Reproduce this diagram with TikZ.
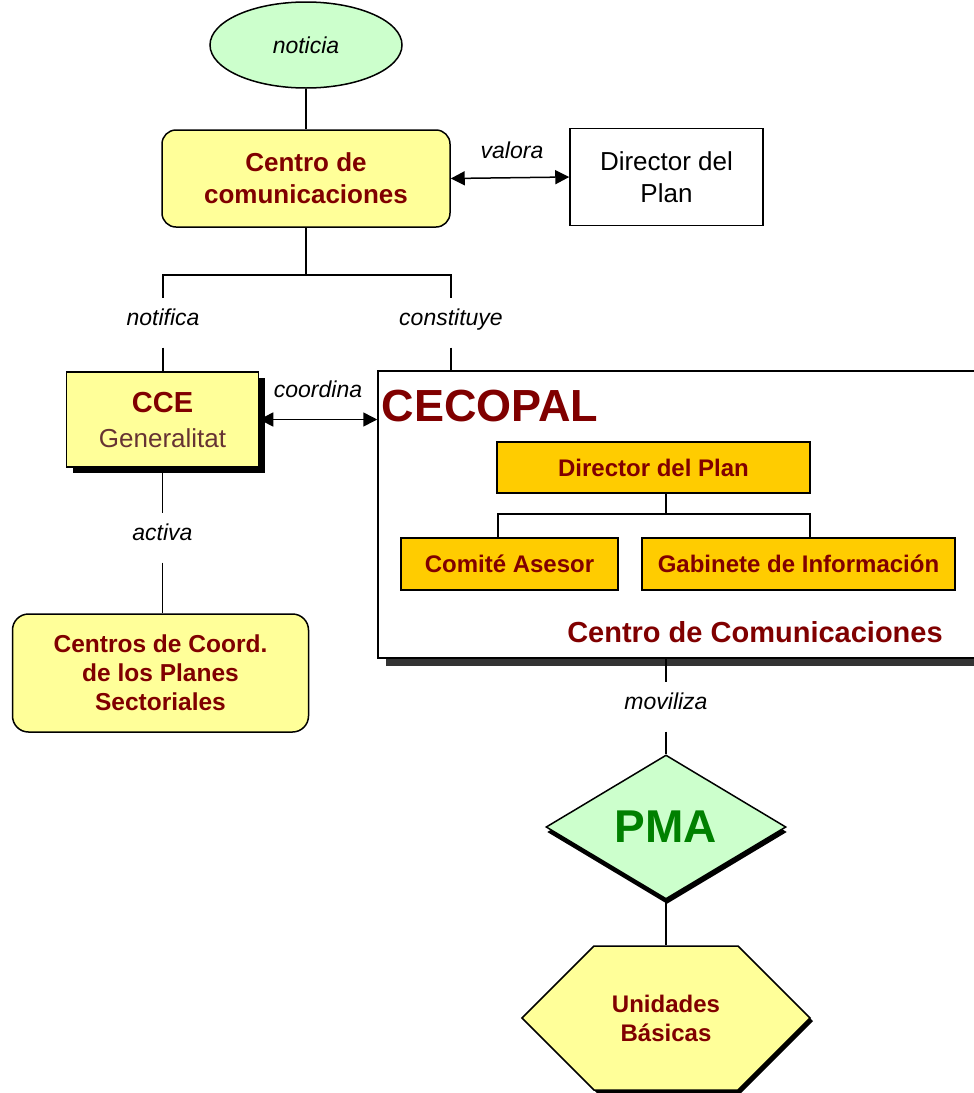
\documentclass[tikz,border=0pt]{standalone}
\usepackage{fontspec}
\setmainfont{Liberation Sans}
\usetikzlibrary{shapes.geometric,shapes.symbols,shadows,arrows.meta}
\definecolor{darkred}{RGB}{128,0,0}
\definecolor{brownish}{RGB}{102,51,51}
\definecolor{pmagreen}{RGB}{0,128,0}
\definecolor{lightyellow}{RGB}{255,255,153}
\definecolor{lightgreen}{RGB}{204,255,204}
\definecolor{goldbox}{RGB}{255,204,0}
\definecolor{shadowgray}{RGB}{51,51,51}
\tikzset{
  box/.style={draw, align=center, inner sep=0pt},
  yellowbox/.style={box, fill=lightyellow},
  goldbox/.style={box, fill=goldbox, minimum height=52pt,
    font=\fontsize{24}{29}\selectfont\bfseries, text=darkred},
  verb/.style={font=\fontsize{23}{27}\selectfont\itshape, inner sep=0pt},
  verbgap/.style={verb, text height=27pt, text depth=21pt},
  dbl/.style={{Triangle[length=14pt,width=14pt]}-{Triangle[length=14pt,width=14pt]}},
}
\begin{document}
\begin{tikzpicture}[x=1pt,y=-1pt,line width=1.5pt]
\clip (0,0) rectangle (974,1093);

%Shape: Ellipse
\node[ellipse, draw, fill=lightgreen, minimum width=192pt, minimum height=86pt, verb] (noticia) at (306,45) {noticia};
%Shape: Rounded Rectangle
\node[yellowbox, rounded corners=14pt, minimum width=288pt, minimum height=97pt,
  font=\fontsize{26}{32}\selectfont\bfseries, text=darkred] (cc) at (306,178.5) {Centro de\\comunicaciones};
%Shape: Rectangle
\node[box, fill=white, minimum width=193pt, minimum height=97pt,
  font=\fontsize{26}{32}\selectfont] (dirplan) at (666.5,177) {Director del\\Plan};

%Shape: Rectangle with shadow
\node[yellowbox, minimum width=192pt, minimum height=95pt, font=\fontsize{26}{35}\selectfont,
  drop shadow={shadow xshift=6pt, shadow yshift=-6pt, fill=black, opacity=1}] (cce) at (162.5,419.5)
  {\textcolor{darkred}{\fontsize{29}{35}\selectfont\bfseries CCE}\\\textcolor{brownish}{Generalitat}};
%Shape: Rounded Rectangle
\node[yellowbox, rounded corners=16pt, minimum width=296pt, minimum height=118pt,
  font=\fontsize{24.5}{29}\selectfont\bfseries, text=darkred] (centros) at (160.5,673)
  {Centros de Coord.\\de los Planes\\Sectoriales};

%Shape: CECOPAL frame
\node[box, fill=white, minimum width=620pt, minimum height=287pt,
  drop shadow={shadow xshift=8pt, shadow yshift=-8pt, fill=shadowgray, opacity=1}] (cecopal) at (688,514.5) {};
\node[anchor=base west, inner sep=0pt, font=\fontsize{45}{50}\selectfont\bfseries, text=darkred] (cecotitle) at (381,421) {CECOPAL};
\node[goldbox, minimum width=313pt, minimum height=51pt] (indir) at (653.5,467.5) {Director del Plan};
\node[goldbox, minimum width=217pt] (comite) at (509.5,564) {Comité Asesor};
\node[goldbox, minimum width=313pt] (gabinete) at (798.5,564) {Gabinete de Información};
\node[inner sep=0pt, font=\fontsize{29}{32}\selectfont\bfseries, text=darkred] (cccom) at (755,632) {Centro de Comunicaciones};

%Shape: Diamond
\node[diamond, draw, fill=lightgreen, inner sep=0pt, minimum width=240pt, minimum height=144pt,
  font=\fontsize{46}{50}\selectfont\bfseries, text=pmagreen,
  drop shadow={shadow xshift=1pt, shadow yshift=-5pt, fill=black, opacity=1}] (pma) at (666,827) {PMA};
%Shape: Hexagon
\node[signal, signal to=west and east, signal pointer angle=90, draw, fill=lightyellow, inner sep=0pt,
  minimum width=288pt, minimum height=144pt, align=center,
  font=\fontsize{24}{29}\selectfont\bfseries, text=darkred,
  drop shadow={shadow xshift=3pt, shadow yshift=-3pt, fill=black, opacity=1}] (ub) at (666,1018) {Unidades\\Básicas};

% Text Node
\node[verb] (valora) at (512,150) {valora};
% Text Node
\node[verb] (coordina) at (318,389) {coordina};
% Text Node
\node[verbgap, anchor=north] (lnot) at (163,298) {notifica};
% Text Node
\node[verbgap, anchor=north] (lcons) at (451,298) {constituye};
% Text Node
\node[verbgap, anchor=north] (lact) at (162.5,513) {activa};
% Text Node
\node[verbgap, anchor=north] (lmov) at (666,682) {moviliza};

%Straight Lines
\coordinate (split) at (306,275);
\draw (noticia.south) -- (cc.north);
\draw (cc.south) -- (split);
\draw (split) -| (lnot.north);
\draw (split) -| (lcons.north);
\draw (lnot.south) -- (lnot.south |- cce.north);
\draw (lcons.south) -- (lcons.south |- cecopal.north);
\draw[dbl] (cc.east) -- (dirplan.west);
\draw[dbl] (cce.east) -- (cce.east -| cecopal.west);
\draw (cce.south) -- (lact.north);
\draw (lact.south) -- (lact.south |- centros.north);
\draw (lmov.north |- cecopal.south) -- (lmov.north);
\draw (lmov.south) -- (pma.north);
\draw (pma.south) -- (ub.north);

%Straight Lines inside CECOPAL
\coordinate (bus) at (666,514);
\coordinate (busL) at (498,514);
\coordinate (busR) at (810,514);
\draw (bus |- indir.south) -- (bus);
\draw (busL |- comite.north) -- (busL) -- (busR) -- (busR |- gabinete.north);

\end{tikzpicture}
\end{document}
